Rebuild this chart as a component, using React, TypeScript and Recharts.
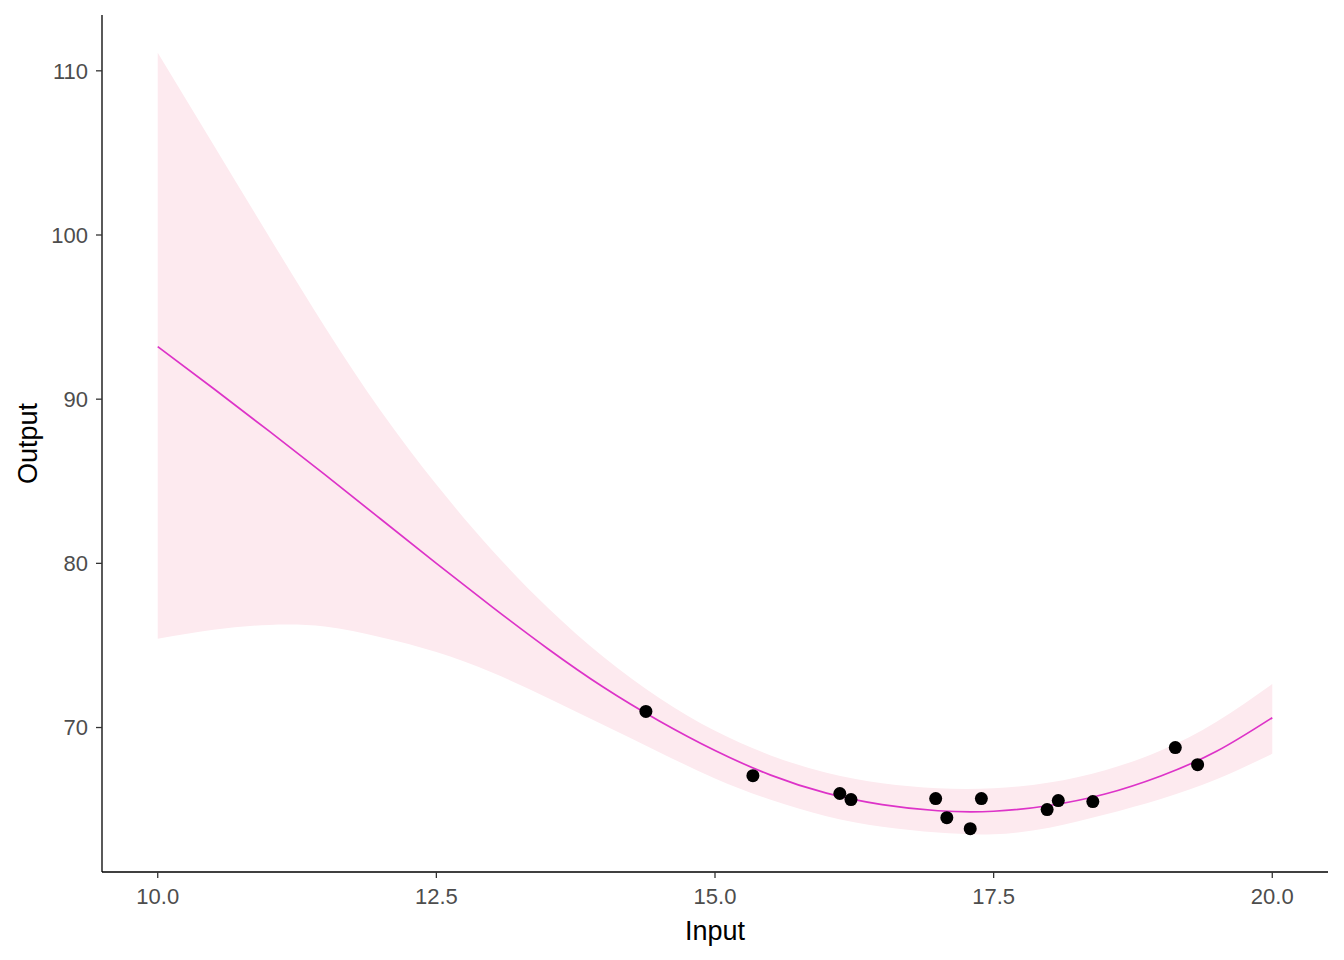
import React from 'react';
import {
  ComposedChart,
  XAxis,
  YAxis,
  Area,
  Line,
  Scatter,
  Label,
} from 'recharts';

// observed points
const pointX = [14.38, 15.34, 16.12, 16.22, 16.98, 17.08, 17.29, 17.39, 17.98, 18.08, 18.39, 19.13, 19.33];
const pointY = [70.98, 67.07, 65.98, 65.61, 65.67, 64.51, 63.84, 65.67, 65.0, 65.55, 65.49, 68.78, 67.74];

// smooth fit + confidence band
const fitX = [10, 10.5, 11, 11.5, 12, 12.5, 13, 13.5, 14, 14.5, 15, 15.5, 16, 16.5, 17, 17.5, 18, 18.5, 19, 19.5, 20];
const fitY = [93.2, 90.65, 88.05, 85.4, 82.7, 80.0, 77.35, 74.8, 72.45, 70.4, 68.6, 67.1, 66.0, 65.3, 64.93, 64.9, 65.25, 65.95, 67.05, 68.55, 70.6];
const bandHi = [111.1, 105.5, 99.9, 94.4, 89.3, 84.8, 80.8, 77.3, 74.3, 71.8, 69.8, 68.3, 67.25, 66.6, 66.3, 66.3, 66.65, 67.4, 68.6, 70.35, 72.65];
const bandLo = [75.4, 75.95, 76.25, 76.15, 75.5, 74.6, 73.35, 71.8, 70.15, 68.5, 66.9, 65.6, 64.6, 63.95, 63.6, 63.5, 63.9, 64.7, 65.65, 66.85, 68.4];

const xTicks = [10, 12.5, 15, 17.5, 20];
const yTicks = [70, 80, 90, 100, 110];

const FONT = '"Liberation Sans", Arial, sans-serif';

const fitData = fitX.map((x, i) => ({ x, fit: fitY[i], band: [bandLo[i], bandHi[i]] }));
const pointData = pointX.map((x, i) => ({ x, y: pointY[i] }));

const tickStyle = { fill: '#4D4D4D', fontSize: 22, fontFamily: FONT };

export default function App() {
  return (
    <div style={{ position: 'absolute', left: 0, top: 0, background: '#fff', fontFamily: FONT }}>
      <ComposedChart
        width={1344}
        height={960}
        data={fitData}
        margin={{ top: 15, right: 16, bottom: 0, left: 0 }}
      >
        <XAxis
          dataKey="x"
          type="number"
          domain={[9.5, 20.5]}
          ticks={xTicks}
          tickFormatter={(v: number) => v.toFixed(1)}
          height={88}
          tick={tickStyle}
          tickSize={6}
          tickMargin={10}
          axisLine={{ stroke: '#000', strokeWidth: 1.3 }}
          tickLine={{ stroke: '#333', strokeWidth: 1.3 }}
          allowDataOverflow
        >
          <Label
            content={({ viewBox }: any) => (
              <text
                x={viewBox.x + viewBox.width / 2}
                y={940}
                textAnchor="middle"
                fontSize={27}
                fontFamily={FONT}
                fill="#000"
              >
                Input
              </text>
            )}
          />
        </XAxis>
        <YAxis
          type="number"
          domain={[61.2, 113.4]}
          ticks={yTicks}
          width={102}
          tick={tickStyle}
          tickSize={6}
          tickMargin={8}
          axisLine={{ stroke: '#000', strokeWidth: 1.3 }}
          tickLine={{ stroke: '#333', strokeWidth: 1.3 }}
          allowDataOverflow
        >
          <Label
            content={({ viewBox }: any) => {
              const cy = viewBox.y + viewBox.height / 2;
              return (
                <text
                  x={37}
                  y={cy}
                  transform={`rotate(-90, 37, ${cy})`}
                  textAnchor="middle"
                  fontSize={27}
                  fontFamily={FONT}
                  fill="#000"
                >
                  Output
                </text>
              );
            }}
          />
        </YAxis>
        <Area
          dataKey="band"
          type="natural"
          stroke="none"
          fill="#FDEAEF"
          fillOpacity={1}
          dot={false}
          activeDot={false}
          isAnimationActive={false}
        />
        <Line
          dataKey="fit"
          type="natural"
          stroke="#DD33C8"
          strokeWidth={1.7}
          dot={false}
          activeDot={false}
          isAnimationActive={false}
        />
        <Scatter
          data={pointData}
          dataKey="y"
          fill="#000"
          isAnimationActive={false}
          shape={(p: any) => <circle cx={p.cx} cy={p.cy} r={6.5} fill="#000" />}
        />
      </ComposedChart>
    </div>
  );
}
